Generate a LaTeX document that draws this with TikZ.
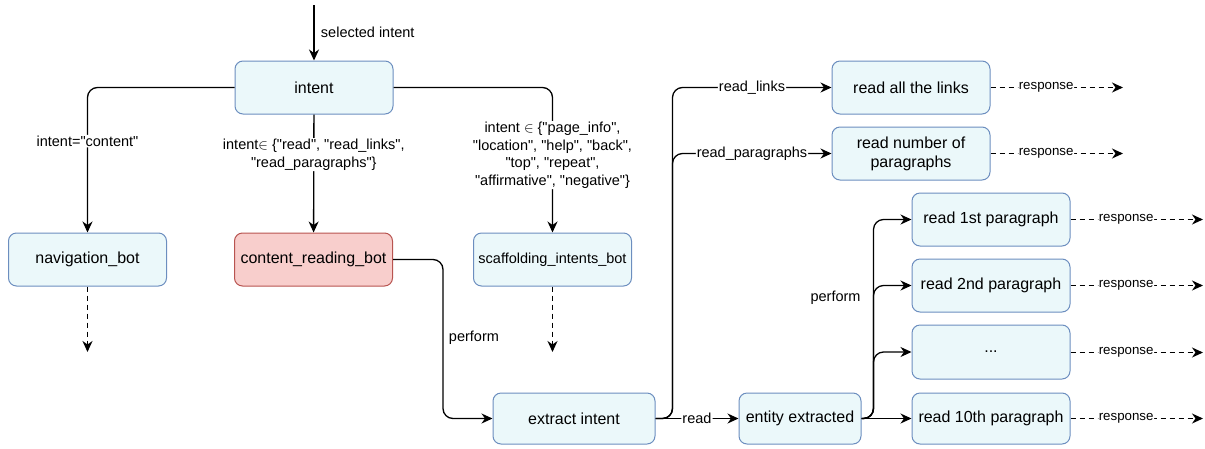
\documentclass[tikz,border=0pt]{standalone}
\usepackage{xcolor}
\usepackage{fontspec}
\setmainfont{Liberation Sans}[Ligatures=TeXOff]
\usepackage{tikz}
\usetikzlibrary{arrows.meta,positioning}

\definecolor{boxfill}{HTML}{EBF8FA}
\definecolor{boxline}{HTML}{6C8EBF}
\definecolor{hotfill}{HTML}{F8CECC}
\definecolor{hotline}{HTML}{B85450}

\begin{document}
\begin{tikzpicture}[
x=1pt, y=-1pt,
box/.style={draw=boxline, fill=boxfill, line width=1pt, rounded corners=8pt, minimum width=158pt, minimum height=53pt, inner sep=2pt, align=center, font=\fontsize{16}{19}\selectfont},
hot/.style={box, draw=hotline, fill=hotfill},
arr/.style={-{Stealth[length=11pt, width=10pt, inset=3.5pt]}, line width=1.3pt, rounded corners=10pt},
resp/.style={arr, dash pattern=on 5pt off 4pt},
lbl/.style={fill=white, inner sep=1pt, align=center, font=\fontsize{14.5}{17.5}\selectfont},
rlbl/.style={fill=white, inner sep=0.5pt, font=\fontsize{13.3}{15}\selectfont}
]
\useasboundingbox (0,0) rectangle (1205,448);

% intent and the three bots
\node[box] (intent) at (314,87.5) {intent};
\node[box] (nav) at (87.5,259.5) {navigation\_bot};
\node[hot] (content) at (313.5,259.5) {content\_reading\_bot};
\node[box, font=\fontsize{14.5}{17}\selectfont] (scaff) at (552.5,259.5) {scaffolding\_intents\_bot};

% reading pipeline
\node[box, minimum width=162pt, minimum height=51pt] (extract) at (574,418.5) {extract intent};
\node[box, minimum width=122pt, minimum height=51pt] (entity) at (800,418.5) {entity extracted};
\node[box] (links) at (911,87.5) {read all the links};
\node[box] (count) at (911,153.5) {read number of\\paragraphs};
\node[box] (para1) at (991,219.5) {read 1st paragraph};
\node[box] (para2) at (991,285.5) {read 2nd paragraph};
\node[box, minimum height=54pt] (dots) at (991,352) {...};
\node[box, minimum height=51pt] (para10) at (991,418.5) {read 10th paragraph};

% loose ends
\coordinate (start) at (314,5);
\coordinate (navout) at (87.5,352);
\coordinate (scaffout) at (552.5,352);
\coordinate (linksout) at (1123,87.5);
\coordinate (countout) at (1123,153.5);
\coordinate (para1out) at (1203,219.5);
\coordinate (para2out) at (1203,285.5);
\coordinate (dotsout) at (1203,352.5);
\coordinate (para10out) at (1203,418.5);

\draw[arr] (start) -- node[right=3pt, font=\fontsize{14.5}{17}\selectfont] {selected intent} (intent);
\draw[arr] (intent.west) -| node[lbl, pos=0.685] {intent="content"} (nav.north);
\draw[arr] (intent) -- node[lbl, pos=0.34] {intent$\in$ \{"read", "read\_links",\\"read\_paragraphs"\}} (content);
\draw[arr] (intent.east) -| node[lbl, pos=0.733] {intent $\in$ \{"page\_info",\\"location", "help", "back",\\"top", "repeat",\\"affirmative", "negative"\}} (scaff.north);
\draw[resp] (nav) -- (navout);
\draw[resp] (scaff) -- (scaffout);

\draw[arr] (content.east) -- ++(50,0) |- node[pos=0.247, right=2pt, font=\fontsize{14.5}{17}\selectfont] {perform} (extract.west);
\draw[arr] (extract.east) -- ++(17,0) |- node[lbl, pos=0.75] {read\_links} (links.west);
\draw[arr] (extract.east) -- ++(17,0) |- node[lbl, pos=0.75] {read\_paragraphs} (count.west);
\draw[arr] (extract) -- node[lbl] {read} (entity);

\draw[arr] (entity.east) -- ++(12,0) |- (para1.west);
\draw[arr] (entity.east) -- ++(12,0) |- node[pos=0.453, left=9pt, font=\fontsize{14.5}{17}\selectfont] {perform} (para2.west);
\draw[arr] (entity.east) -- ++(12,0) |- (dots.west);
\draw[arr] (entity) -- (para10);

\draw[resp] (links) -- node[rlbl, pos=0.42] {response} (linksout);
\draw[resp] (count) -- node[rlbl, pos=0.42] {response} (countout);
\draw[resp] (para1) -- node[rlbl, pos=0.42] {response} (para1out);
\draw[resp] (para2) -- node[rlbl, pos=0.42] {response} (para2out);
\draw[resp] (dots.east |- dotsout) -- node[rlbl, pos=0.42] {response} (dotsout);
\draw[resp] (para10) -- node[rlbl, pos=0.42] {response} (para10out);
\end{tikzpicture}
\end{document}
